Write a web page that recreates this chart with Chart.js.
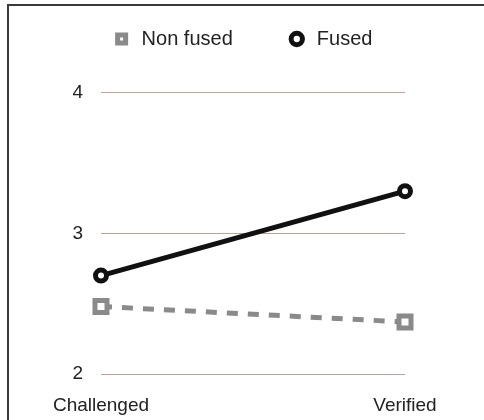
<!DOCTYPE html>
<html>
<head>
<meta charset="utf-8">
<script src="https://cdn.jsdelivr.net/npm/chart.js@4"></script>
<style>
  html, body { margin: 0; padding: 0; background: #fff; }
  #wrap { position: relative; width: 484px; height: 420px; }
  #frame { position: absolute; left: 7px; top: 4px; right: -10px; bottom: -10px;
           border-left: 2px solid #3a3a3a; border-top: 2px solid #3a3a3a; pointer-events: none; }
</style>
</head>
<body>
<div id="wrap">
  <canvas id="chart" width="484" height="420"></canvas>
  <div id="frame"></div>
</div>
<script>
const categories = ['Challenged', 'Verified'];
const nonFused = [2.48, 2.37];
const fused = [2.7, 3.3];
const yTicks = [2, 3, 4];

const family = '"Liberation Sans", Arial, Helvetica, sans-serif';
const font = { family, size: 19 };

new Chart(document.getElementById('chart').getContext('2d'), {
    type: 'line',
    data: {
        labels: categories,
        datasets: [
            { label: 'Non fused', data: nonFused, borderColor: '#8a8a8a', borderWidth: 5, borderDash: [11, 10],
              pointStyle: 'rect', pointRadius: 8.5, pointBorderWidth: 5, pointBorderColor: '#8a8a8a',
              pointBackgroundColor: '#fff', tension: 0 },
            { label: 'Fused', data: fused, borderColor: '#111', borderWidth: 5,
              pointStyle: 'circle', pointRadius: 5.5, pointBorderWidth: 5, pointBorderColor: '#111',
              pointBackgroundColor: '#fff', tension: 0 }
        ]
    },
    options: {
        responsive: false,
        animation: false,
        layout: { padding: { left: 0, right: 0, top: -25, bottom: 0 } },
        scales: {
            x: {
                offset: false,
                grid: { display: false },
                border: { display: false },
                ticks: { color: '#222', font, padding: 12, maxRotation: 0 },
                afterFit: s => { s.height = 46; }
            },
            y: {
                min: 2, max: 4.24,
                afterBuildTicks: s => { s.ticks = yTicks.map(v => ({ value: v })); },
                grid: { color: 'rgb(188,164,154)', lineWidth: 1, drawTicks: false },
                border: { display: false },
                ticks: { color: '#222', font, padding: 18 },
                afterFit: s => { s.width = 101; }
            },
            // empty right margin so the legend stays centred on the whole page
            right: {
                type: 'linear', position: 'right',
                grid: { display: false },
                border: { display: false },
                ticks: { display: false },
                afterFit: s => { s.width = 79; }
            }
        },
        plugins: {
            legend: {
                labels: { usePointStyle: true, boxHeight: 8, boxWidth: 20, padding: 54, color: '#222',
                          font: { family, size: 20 } }
            },
            tooltip: { enabled: false }
        }
    }
});
</script>
</body>
</html>
